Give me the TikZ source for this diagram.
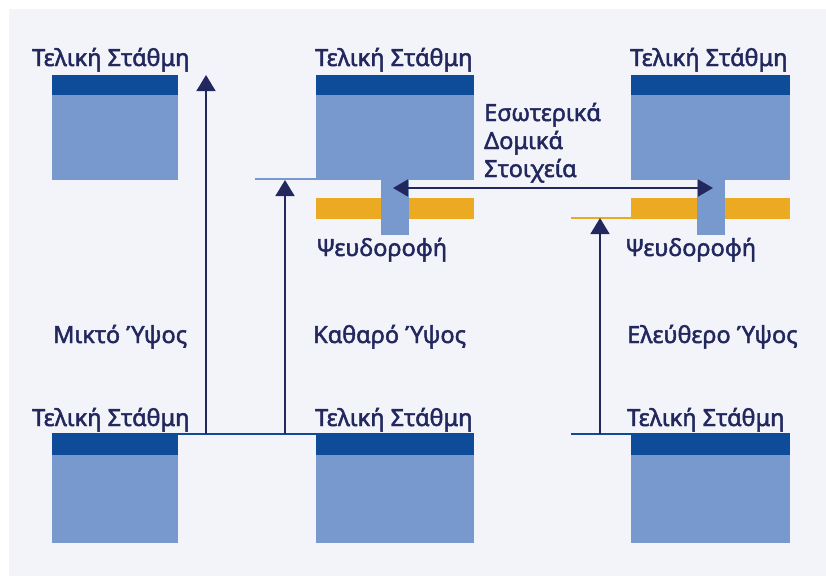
\documentclass[tikz,border=0pt]{standalone}
\usepackage{fontspec}
\setmainfont{Noto Sans}
\newfontfamily\lblfont[FakeBold=2]{Noto Sans}
\usetikzlibrary{arrows.meta}
\definecolor{panel}{HTML}{F3F4F9}
\definecolor{darkband}{HTML}{0E4C9A}
\definecolor{lightblk}{HTML}{7799CE}
\definecolor{orangebar}{HTML}{ECAA22}
\definecolor{navy}{HTML}{22285E}
\tikzset{
  blk/.style={fill=lightblk, draw=none, inner sep=0pt, outer sep=0pt, anchor=north west, minimum width=#1},
  band/.style={fill=darkband, draw=none, inner sep=0pt, outer sep=0pt, anchor=north west, minimum width=#1, minimum height=20pt},
  obar/.style={fill=orangebar, draw=none, inner sep=0pt, outer sep=0pt, anchor=north west, minimum width=158pt, minimum height=21pt},
  stem/.style={fill=lightblk, draw=none, inner sep=0pt, outer sep=0pt, anchor=north west, minimum width=28pt, minimum height=55pt},
  lbl/.style={text=navy, inner sep=0pt, anchor=base west, font=\lblfont\fontsize{23.5}{27}\selectfont},
  arr/.style={draw=navy, line width=1.4pt, -{Triangle[width=19pt,length=16pt]}},
  darr/.style={draw=navy, line width=1.4pt, {Triangle[width=17pt,length=15pt]}-{Triangle[width=17pt,length=15pt]}},
  levelline/.style={line width=2pt}
}
\begin{document}
\begin{tikzpicture}[x=1pt,y=-1pt]
\useasboundingbox (0,0) rectangle (826,576);
\fill[panel] (9,9) rectangle (826,576);
% top blocks
\node[blk=126pt, minimum height=105pt] (tlA) at (52,75) {};
\node[band=126pt] (tlB) at (52,75) {};
\node[blk=158pt, minimum height=105pt] (tmA) at (316,75) {};
\node[band=158pt] (tmB) at (316,75) {};
\node[blk=159pt, minimum height=105pt] (trA) at (631,75) {};
\node[band=159pt] (trB) at (631,75) {};
% orange bars and stems
\node[obar] (om) at (316,198) {};
\node[obar, minimum width=159pt] (or) at (631,198) {};
\node[stem] (sm) at (381,180) {};
\node[stem] (sr) at (697,180) {};
% bottom blocks
\node[blk=126pt, minimum height=110pt] (blA) at (52,433) {};
\node[band=126pt, minimum height=22pt] (blB) at (52,433) {};
\node[blk=158pt, minimum height=110pt] (bmA) at (316,433) {};
\node[band=158pt, minimum height=22pt] (bmB) at (316,433) {};
\node[blk=159pt, minimum height=110pt] (brA) at (631,433) {};
\node[band=159pt, minimum height=22pt] (brB) at (631,433) {};
% level lines
\coordinate (g1) at (178,434);
\coordinate (g2) at (316,434);
\coordinate (g3) at (571,434);
\coordinate (g4) at (631,434);
\draw[levelline, darkband] (g1) -- (g2);
\draw[levelline, darkband] (g3) -- (g4);
\coordinate (c1) at (255,179);
\coordinate (c2) at (316,179);
\draw[levelline, lightblk] (c1) -- (c2);
\coordinate (f1) at (571,218);
\coordinate (f2) at (631,218);
\draw[levelline, orangebar] (f1) -- (f2);
% arrows
\coordinate (a1s) at (206,434);
\coordinate (a1e) at (206,75);
\coordinate (a2s) at (285,434);
\coordinate (a2e) at (285,180);
\coordinate (a3s) at (600,434);
\coordinate (a3e) at (600,218);
\draw[arr] (a1s) -- (a1e);
\draw[arr] (a2s) -- (a2e);
\draw[arr] (a3s) -- (a3e);
\coordinate (d1) at (393,188);
\coordinate (d2) at (713,188);
\draw[darr] (d1) -- (d2);
% labels
\node[lbl] (t1) at (32,66) {Τελική Στάθμη};
\node[lbl] (t2) at (315,66) {Τελική Στάθμη};
\node[lbl] (t3) at (630,66) {Τελική Στάθμη};
\node[lbl] (b1) at (32,426) {Τελική Στάθμη};
\node[lbl] (b2) at (315,426) {Τελική Στάθμη};
\node[lbl] (b3) at (627,426) {Τελική Στάθμη};
\node[lbl] (e1) at (484,121) {Εσωτερικά};
\node[lbl] (e2) at (484,149) {Δομικά};
\node[lbl] (e3) at (484,177) {Στοιχεία};
\node[lbl] (h1) at (53,343) {Μικτό Ύψος};
\node[lbl] (h2) at (313,343) {Καθαρό Ύψος};
\node[lbl] (h3) at (627,343) {Ελεύθερο Ύψος};
\node[lbl] (p1) at (316,256) {Ψευδοροφή};
\node[lbl] (p2) at (625,256) {Ψευδοροφή};
\end{tikzpicture}
\end{document}
